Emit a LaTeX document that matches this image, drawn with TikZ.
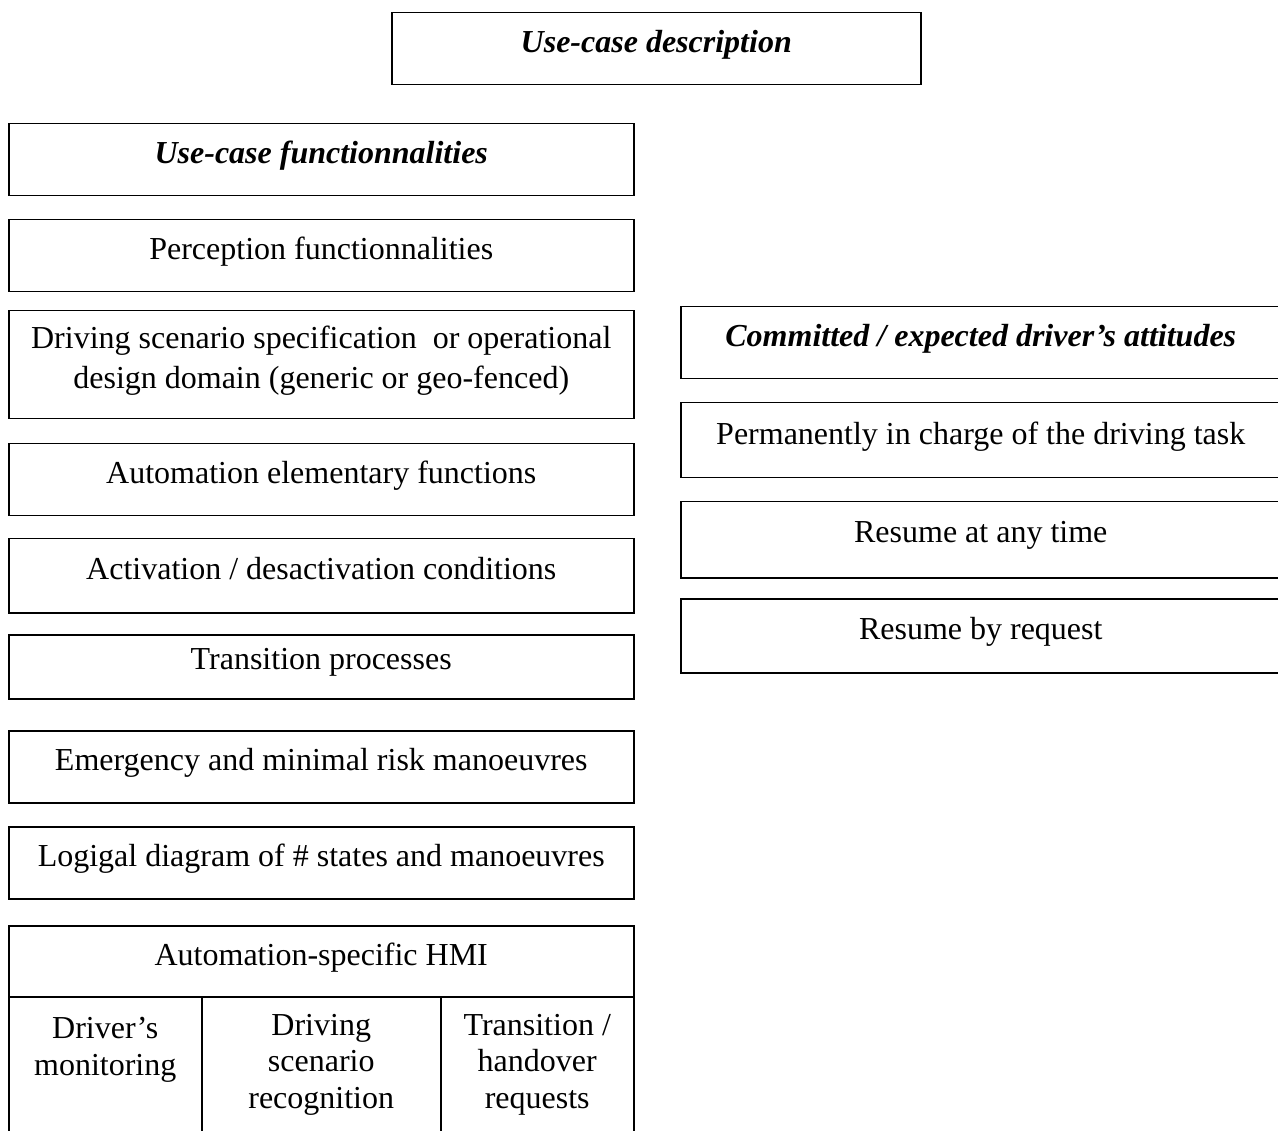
\documentclass[tikz,border=0pt]{standalone}
\usepackage{fontspec}
\setmainfont{Liberation Serif}
\tikzset{
  box/.style={draw, line width=1.5pt, anchor=north west, inner sep=0pt,
    align=center, font=\fontsize{32}{36.5}\selectfont, text depth=15pt},
  headfont/.style={font=\fontsize{32}{36.5}\selectfont\bfseries\itshape},
  leftbox/.style={box, minimum width=625pt},
  rightbox/.style={box, minimum width=600pt},
  cellbox/.style={box, text depth=, minimum height=136pt}
}
\begin{document}
\begin{tikzpicture}[x=1pt, y=-1pt]
  \useasboundingbox (0,0) rectangle (1278,1131);
  \clip (0,0) rectangle (1278,1131);
  % title
  \node[box, headfont, minimum width=529pt, minimum height=72pt] (descr) at (391,12) {Use-case description};
  % left column
  \node[leftbox, headfont, minimum height=72pt] (funct) at (8,123) {Use-case functionnalities};
  \node[leftbox, minimum height=72pt] (percep) at (8,219) {Perception functionnalities};
  \node[leftbox, minimum height=108pt] (odd) at (8,310) {Driving scenario specification\ \ or operational\\[3.5pt]design domain (generic or geo-fenced)};
  \node[leftbox, minimum height=72pt] (elem) at (8,443) {Automation elementary functions};
  \node[leftbox, minimum height=74pt] (activ) at (8,538) {Activation / desactivation conditions};
  \node[leftbox, minimum height=64pt] (trans) at (8,634) {Transition processes};
  \node[leftbox, minimum height=72pt] (emerg) at (8,730) {Emergency and minimal risk manoeuvres};
  \node[leftbox, minimum height=72pt] (logic) at (8,826) {Logigal diagram of \# states and manoeuvres};
  \node[leftbox, minimum height=71pt] (hmi) at (8,925) {Automation-specific HMI};
  \node[cellbox, minimum width=193pt] (monit) at (8,996) {Driver's\\monitoring\\ };
  \node[cellbox, minimum width=239pt] (recog) at (201,996) {Driving\\scenario\\recognition};
  \node[cellbox, minimum width=193pt] (handover) at (440,996) {Transition /\\handover\\requests};
  % right column
  \node[rightbox, headfont, minimum height=72pt] (attit) at (680,306) {Committed / expected driver's attitudes};
  \node[rightbox, minimum height=75pt] (charge) at (680,402) {Permanently in charge of the driving task};
  \node[rightbox, minimum height=76pt] (anytime) at (680,501) {Resume at any time};
  \node[rightbox, minimum height=74pt] (request) at (680,598) {Resume by request};
\end{tikzpicture}
\end{document}
